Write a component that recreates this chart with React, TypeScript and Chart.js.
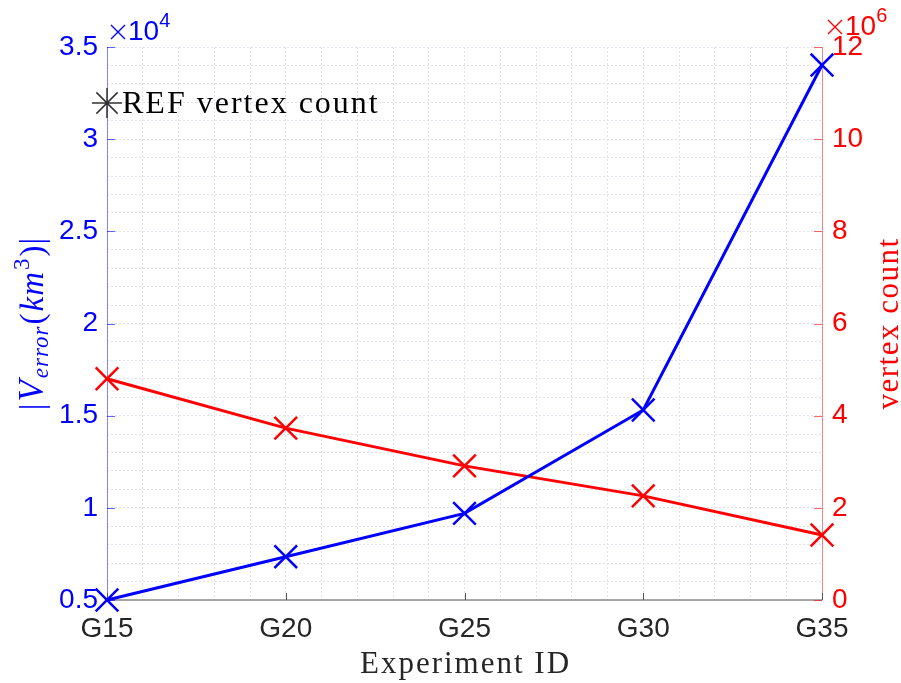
import React, { useEffect, useRef } from 'react';
import { Chart, registerables } from 'chart.js';

Chart.register(...registerables);

// ---- data ----
const categories = ['G15', 'G20', 'G25', 'G30', 'G35'];
const volumeError = [5000, 7350, 9700, 15310, 34020]; // km^3
const vertexCount = [4.8e6, 3.73e6, 2.91e6, 2.26e6, 1.41e6];
const leftTicks = [0.5, 1, 1.5, 2, 2.5, 3, 3.5]; // x10^4
const rightTicks = [0, 2, 4, 6, 8, 10, 12]; // x10^6
const legendLabel = 'REF vertex count';
const xTitle = 'Experiment ID';
const rightTitle = 'vertex count';

const BLUE = '#0000ff';
const RED = '#ff0000';
const DARK = '#262626';
const SANS = '"Liberation Sans", Arial, Helvetica, sans-serif';
const SERIF = '"Liberation Serif", "Times New Roman", serif';

const decorPlugin = {
  id: 'decor',
  beforeDatasetsDraw(chart: any) {
    const { ctx, chartArea: a, scales } = chart;
    ctx.save();
    ctx.setLineDash([]);
    // axis lines
    ctx.lineWidth = 1;
    ctx.strokeStyle = 'rgba(0,0,255,0.45)';
    ctx.beginPath();
    ctx.moveTo(a.left + 0.5, a.top);
    ctx.lineTo(a.left + 0.5, a.bottom);
    ctx.stroke();
    ctx.strokeStyle = 'rgba(255,0,0,0.45)';
    ctx.beginPath();
    ctx.moveTo(a.right + 0.5, a.top);
    ctx.lineTo(a.right + 0.5, a.bottom);
    ctx.stroke();
    ctx.strokeStyle = '#8a8a8a';
    ctx.lineWidth = 1.5;
    ctx.beginPath();
    ctx.moveTo(a.left, a.bottom);
    ctx.lineTo(a.right, a.bottom);
    ctx.stroke();
    // inward ticks
    ctx.lineWidth = 1;
    ctx.strokeStyle = 'rgba(0,0,255,0.6)';
    leftTicks.forEach((t) => {
      const y = Math.round(scales.y.getPixelForValue(t * 1e4)) + 0.5;
      ctx.beginPath();
      ctx.moveTo(a.left, y);
      ctx.lineTo(a.left + 8, y);
      ctx.stroke();
    });
    ctx.strokeStyle = 'rgba(255,0,0,0.6)';
    rightTicks.forEach((t) => {
      const y = Math.round(scales.y1.getPixelForValue(t * 1e6)) + 0.5;
      ctx.beginPath();
      ctx.moveTo(a.right, y);
      ctx.lineTo(a.right - 8, y);
      ctx.stroke();
    });
    ctx.strokeStyle = '#555';
    categories.forEach((_, i) => {
      const x = Math.round(scales.x.getPixelForValue(i)) + 0.5;
      ctx.beginPath();
      ctx.moveTo(x, a.bottom);
      ctx.lineTo(x, a.bottom - 7);
      ctx.stroke();
    });
    ctx.restore();
  },
  afterDraw(chart: any) {
    const { ctx, chartArea: a } = chart;
    ctx.save();
    ctx.textBaseline = 'alphabetic';
    // exponent labels: thin "×" then "10" and superscript
    const drawExp = (x: number, y: number, exp: string, color: string) => {
      ctx.fillStyle = color;
      ctx.strokeStyle = color;
      ctx.lineWidth = 1.4;
      const cxm = x + 8;
      const cym = y - 8;
      const h = 7;
      ctx.beginPath();
      ctx.moveTo(cxm - h, cym - h);
      ctx.lineTo(cxm + h, cym + h);
      ctx.moveTo(cxm + h, cym - h);
      ctx.lineTo(cxm - h, cym + h);
      ctx.stroke();
      ctx.textAlign = 'left';
      ctx.font = `28px ${SANS}`;
      ctx.fillText('10', x + 18, y);
      const w = 18 + ctx.measureText('10').width;
      ctx.font = `20px ${SANS}`;
      ctx.fillText(exp, x + w, y - 13);
    };
    drawExp(a.left + 3, 40, '4', BLUE);
    drawExp(a.right + 5, 35, '6', RED);

    // x title
    ctx.fillStyle = DARK;
    ctx.textAlign = 'center';
    ctx.font = `31px ${SERIF}`;
    (ctx as any).letterSpacing = '2px';
    ctx.fillText(xTitle, (a.left + a.right) / 2 + 1, 673);

    // right title
    ctx.save();
    ctx.translate(898, (a.top + a.bottom) / 2);
    ctx.rotate(-Math.PI / 2);
    ctx.fillStyle = RED;
    ctx.textAlign = 'center';
    ctx.font = `31px ${SERIF}`;
    (ctx as any).letterSpacing = '1.5px';
    ctx.fillText(rightTitle, 0, 0);
    ctx.restore();

    // left title |V_error(km^3)|
    ctx.save();
    (ctx as any).letterSpacing = '1px';
    ctx.translate(43, 323);
    ctx.rotate(-Math.PI / 2);
    ctx.fillStyle = BLUE;
    ctx.textAlign = 'left';
    const parts = [
      { t: '|', font: `33px ${SERIF}`, dy: 0 },
      { t: 'V', font: `italic 35px ${SERIF}`, dy: 0 },
      { t: 'error', font: `italic 23px ${SERIF}`, dy: 5 },
      { t: '(', font: `33px ${SERIF}`, dy: 0 },
      { t: 'km', font: `italic 33px ${SERIF}`, dy: 0 },
      { t: '3', font: `23px ${SERIF}`, dy: -14 },
      { t: ')|', font: `33px ${SERIF}`, dy: 0 },
    ];
    let total = 0;
    const widths = parts.map((p) => {
      ctx.font = p.font;
      const w = ctx.measureText(p.t).width + 1;
      total += w;
      return w;
    });
    let cx = -total / 2;
    parts.forEach((p, i) => {
      ctx.font = p.font;
      ctx.fillText(p.t, cx, p.dy);
      cx += widths[i];
    });
    ctx.restore();

    // legend (box off, inside top-left)
    const ds = chart.data.datasets[2];
    const mx = a.left;
    const my = 103;
    const r = 15;
    ctx.strokeStyle = ds.borderColor;
    ctx.lineWidth = 1.5;
    ctx.beginPath();
    for (let k = 0; k < 4; k++) {
      const ang = (k * Math.PI) / 4;
      ctx.moveTo(mx - Math.cos(ang) * r, my - Math.sin(ang) * r);
      ctx.lineTo(mx + Math.cos(ang) * r, my + Math.sin(ang) * r);
    }
    ctx.stroke();
    ctx.fillStyle = '#000';
    ctx.textAlign = 'left';
    ctx.font = `32px ${SERIF}`;
    (ctx as any).letterSpacing = '2px';
    ctx.fillText(ds.label, a.left + 15, 113);
    ctx.restore();
  },
};

export default function App() {
  const ref = useRef<HTMLCanvasElement | null>(null);
  useEffect(() => {
    document.body.style.margin = '0';
    const canvas = ref.current;
    if (!canvas) return;
    const chart = new Chart(canvas, {
      type: 'line',
      data: {
        datasets: [
          {
            label: '|V_error(km^3)|',
            data: volumeError.map((v, i) => ({ x: i, y: v })),
            yAxisID: 'y',
            borderColor: BLUE,
            backgroundColor: BLUE,
            borderWidth: 3,
            pointStyle: 'crossRot',
            pointRadius: 16,
            pointBorderWidth: 2.5,
            pointBorderColor: BLUE,
            tension: 0,
            clip: false,
          },
          {
            label: rightTitle,
            data: vertexCount.map((v, i) => ({ x: i, y: v })),
            yAxisID: 'y1',
            borderColor: RED,
            backgroundColor: RED,
            borderWidth: 3,
            pointStyle: 'crossRot',
            pointRadius: 16,
            pointBorderWidth: 2.5,
            pointBorderColor: RED,
            tension: 0,
            clip: false,
          },
          {
            label: legendLabel,
            data: [],
            yAxisID: 'y1',
            borderColor: '#333333',
            pointStyle: 'star',
          },
        ],
      },
      options: {
        animation: false,
        responsive: false,
        layout: { padding: { top: 47, left: 0, right: 0, bottom: 0 } },
        plugins: { legend: { display: false }, tooltip: { enabled: false } },
        scales: {
          x: {
            type: 'linear',
            min: 0,
            max: 4,
            afterFit: (s: any) => {
              s.height = 83;
            },
            ticks: {
              stepSize: 0.2,
              autoSkip: false,
              maxRotation: 0,
              padding: 12,
              color: DARK,
              font: { family: SANS, size: 28 },
              callback: (v: any) => {
                const r = Math.round(Number(v));
                return Math.abs(Number(v) - r) < 1e-6 ? categories[r] : '';
              },
            },
            grid: { color: '#e2e2ea', lineWidth: 1, drawTicks: false },
            border: { display: false, dash: [2, 2] },
          },
          y: {
            type: 'linear',
            position: 'left',
            min: 5000,
            max: 35000,
            afterFit: (s: any) => {
              s.width = 107;
            },
            ticks: {
              stepSize: 1000,
              maxTicksLimit: 200,
              autoSkip: false,
              padding: 9,
              color: BLUE,
              font: { family: SANS, size: 28 },
              callback: (v: any) => {
                const n = Number(v);
                const t = leftTicks.find((k) => Math.abs(k * 1e4 - n) < 1e-3);
                return t !== undefined ? String(t) : '';
              },
            },
            grid: { color: '#e2e2ea', lineWidth: 1, drawTicks: false },
            border: { display: false, dash: [2, 2] },
          },
          y1: {
            type: 'linear',
            position: 'right',
            min: 0,
            max: 12e6,
            afterFit: (s: any) => {
              s.width = 79;
            },
            ticks: {
              stepSize: 2e6,
              autoSkip: false,
              padding: 10,
              color: RED,
              font: { family: SANS, size: 28 },
              callback: (v: any) => {
                const n = Number(v);
                const t = rightTicks.find((k) => Math.abs(k * 1e6 - n) < 1);
                return t !== undefined ? String(t) : '';
              },
            },
            grid: { display: false, drawTicks: false },
            border: { display: false },
          },
        },
      },
      plugins: [decorPlugin],
    } as any);
    return () => chart.destroy();
  }, []);
  return (
    <div style={{ width: 901, height: 683, background: '#fff' }}>
      <canvas ref={ref} width={901} height={683} style={{ display: 'block' }} />
    </div>
  );
}
